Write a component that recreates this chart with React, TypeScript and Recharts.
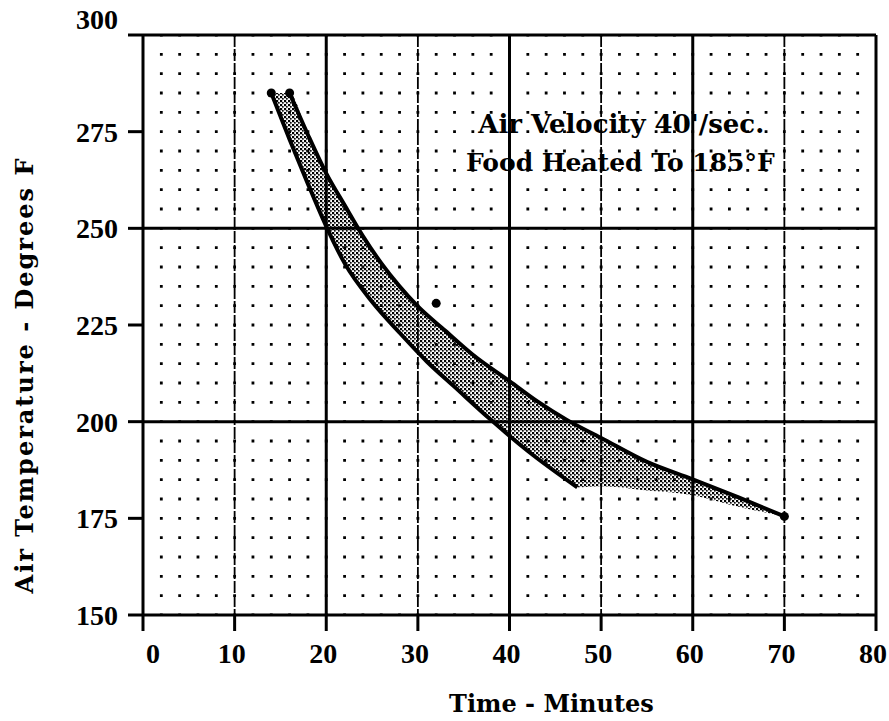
import React from 'react';
import {
  ComposedChart,
  Line,
  Area,
  Scatter,
  XAxis,
  YAxis,
  CartesianGrid,
  ReferenceLine,
  ReferenceDot,
  Label,
} from 'recharts';

// ---- data ----
const xTicks = [0, 10, 20, 30, 40, 50, 60, 70, 80];
const yTicks = [150, 175, 200, 225, 250, 275, 300];
const minorX = [2, 4, 6, 8, 10, 12, 14, 16, 18, 20, 22, 24, 26, 28, 30, 32, 34, 36, 38, 40, 42, 44, 46, 48, 50, 52, 54, 56, 58, 60, 62, 64, 66, 68, 70, 72, 74, 76, 78];
const dashedMajorX = [10, 30, 50, 70];
const solidMajorX = [20, 40, 60, 80];
const solidMajorY = [200, 250, 300];

const lowerX = [14, 16, 18, 20, 22, 25, 28, 31, 34, 38, 42, 47.4];
const lowerY = [285, 273, 261.5, 250.5, 241, 231, 223, 215.5, 209, 200.4, 192.4, 183];

const upperX = [16, 18, 20, 22, 24, 26, 28, 30, 33, 36, 40, 43, 46.3, 50, 55, 60, 65, 70];
const upperY = [285, 274.2, 264.2, 256, 248, 241, 235, 229.8, 223.5, 217.3, 210.5, 205.3, 200.4, 195.8, 189.6, 185.1, 180.4, 175.5];

const bandX = [14, 16, 18, 20, 22, 24, 26, 28, 30, 33, 36, 40, 43, 46.3, 47.4, 50, 55, 60, 65, 70];
const bandLow = [285, 273, 261.5, 250.5, 241, 234.3, 228.4, 223, 218, 211.2, 204.7, 196.4, 190.7, 184.9, 183, 183.3, 182.2, 181, 178, 175.5];
const bandHigh = [285, 285, 274.2, 264.2, 256, 248, 241, 235, 229.8, 223.5, 217.3, 210.5, 205.3, 200.4, 198.9, 195.8, 189.6, 185.1, 180.4, 175.5];

const markerX = [14, 16, 70, 32];
const markerY = [285, 285, 175.5, 230.6];

const annotation1 = "Air Velocity 40'/sec.";
const annotation2 = 'Food Heated To 185°F';
const xTitle = 'Time - Minutes';
const yTitle = 'Air Temperature - Degrees F';

// ---- built tables ----
const lowerData = lowerX.map((x, i) => ({ x, y: lowerY[i] }));
const upperData = upperX.map((x, i) => ({ x, y: upperY[i] }));
const bandData = bandX.map((x, i) => ({ x, band: [bandLow[i], bandHigh[i]] }));
const markers = markerX.map((x, i) => ({ x, y: markerY[i] }));

// ---- layout ----
const W = 889;
const H = 721;
const PLOT_TOP = 35;
const PLOT_H = 580;
const DOT_STEP = PLOT_H / 30;

const tickFont = "'Liberation Serif', 'Times New Roman', serif";
const titleFont = "'DejaVu Serif', serif";

const XTick = (props: any) => {
  const { x, y, payload } = props;
  const dx = payload.value === 0 ? 10 : -3;
  return (
    <text x={x + dx} y={y + 30} textAnchor="middle" fontFamily={tickFont} fontWeight={700} fontSize={28} fill="#000">
      {payload.value}
    </text>
  );
};

const YTick = (props: any) => {
  const { x, y, payload } = props;
  const dy = payload.value === 300 ? -6 : 10;
  return (
    <text x={x} y={y + dy} textAnchor="end" fontFamily={tickFont} fontWeight={700} fontSize={28} fill="#000">
      {payload.value}
    </text>
  );
};

const XTitle = (props: any) => {
  const vb = props.viewBox;
  return (
    <text x={vb.x + vb.width / 2 + 42} y={vb.y + 97} textAnchor="middle" fontFamily={titleFont} fontWeight={700} fontSize={24} fill="#000">
      {xTitle}
    </text>
  );
};

const YTitle = (props: any) => {
  const vb = props.viewBox;
  const cx = 24;
  const cy = vb.y + vb.height / 2 + 50;
  return (
    <text
      x={cx}
      y={cy}
      transform={`rotate(-90, ${cx}, ${cy})`}
      textAnchor="middle"
      dominantBaseline="central"
      fontFamily={titleFont}
      fontWeight={700}
      fontSize={24}
      letterSpacing={2}
      fill="#000"
    >
      {yTitle}
    </text>
  );
};

export default function App() {
  return (
    <div style={{ position: 'absolute', left: 0, top: 0, width: W, height: H, background: '#fff' }}>
      <ComposedChart width={W} height={H} margin={{ top: PLOT_TOP, right: 13, bottom: 46, left: 0 }}>
        <defs>
          <pattern id="stipple" width="4" height="4" patternUnits="userSpaceOnUse">
            <rect x="0" y="0" width="2.2" height="2.2" fill="#000" />
            <rect x="2" y="2" width="1.7" height="1.7" fill="#111" />
          </pattern>
        </defs>
        <XAxis
          dataKey="x"
          type="number"
          domain={[0, 80]}
          ticks={xTicks}
          interval={0}
          allowDataOverflow
          height={60}
          tickSize={16}
          tickMargin={2}
          tick={<XTick />}
          axisLine={{ stroke: '#000', strokeWidth: 3 }}
          tickLine={{ stroke: '#000', strokeWidth: 3 }}
        >
          <Label content={<XTitle />} />
        </XAxis>
        <YAxis
          dataKey="y"
          type="number"
          domain={[150, 300]}
          ticks={yTicks}
          interval={0}
          allowDataOverflow
          width={143}
          tickSize={15}
          tickMargin={10}
          tick={<YTick />}
          axisLine={{ stroke: '#000', strokeWidth: 3 }}
          tickLine={{ stroke: '#000', strokeWidth: 3 }}
        >
          <Label content={<YTitle />} />
        </YAxis>

        {/* dot grid: every 2 minutes x every 5 degrees */}
        <CartesianGrid
          horizontal={false}
          verticalValues={minorX}
          stroke="#000"
          strokeWidth={2.8}
          strokeDasharray={`2.8 ${DOT_STEP - 2.8}`}
          strokeDashoffset={1.4}
        />
        {/* lighter major verticals */}
        <CartesianGrid horizontal={false} verticalValues={dashedMajorX} stroke="#000" strokeWidth={1.8} strokeDasharray="12 2" />

        {solidMajorX.map((v) => (
          <ReferenceLine key={`vx${v}`} x={v} stroke="#000" strokeWidth={3} ifOverflow="extendDomain" />
        ))}
        {solidMajorY.map((v) => (
          <ReferenceLine key={`hy${v}`} y={v} stroke="#000" strokeWidth={3} ifOverflow="extendDomain" />
        ))}

        <Area
          data={bandData}
          dataKey="band"
          type="monotone"
          stroke="none"
          fill="url(#stipple)"
          fillOpacity={1}
          isAnimationActive={false}
        />
        <Line data={lowerData} dataKey="y" type="monotone" stroke="#000" strokeWidth={4} dot={false} isAnimationActive={false} />
        <Line data={upperData} dataKey="y" type="monotone" stroke="#000" strokeWidth={4} dot={false} isAnimationActive={false} />
        <Scatter data={markers} fill="#000" isAnimationActive={false} />

        <ReferenceDot
          x={52.2}
          y={277}
          r={0}
          stroke="none"
          fill="none"
          label={{ value: annotation1, position: 'center', fill: '#000', fontSize: 26, fontWeight: 700, fontFamily: titleFont }}
        />
        <ReferenceDot
          x={52.1}
          y={267}
          r={0}
          stroke="none"
          fill="none"
          label={{ value: annotation2, position: 'center', fill: '#000', fontSize: 25, fontWeight: 700, fontFamily: titleFont }}
        />
      </ComposedChart>
    </div>
  );
}
